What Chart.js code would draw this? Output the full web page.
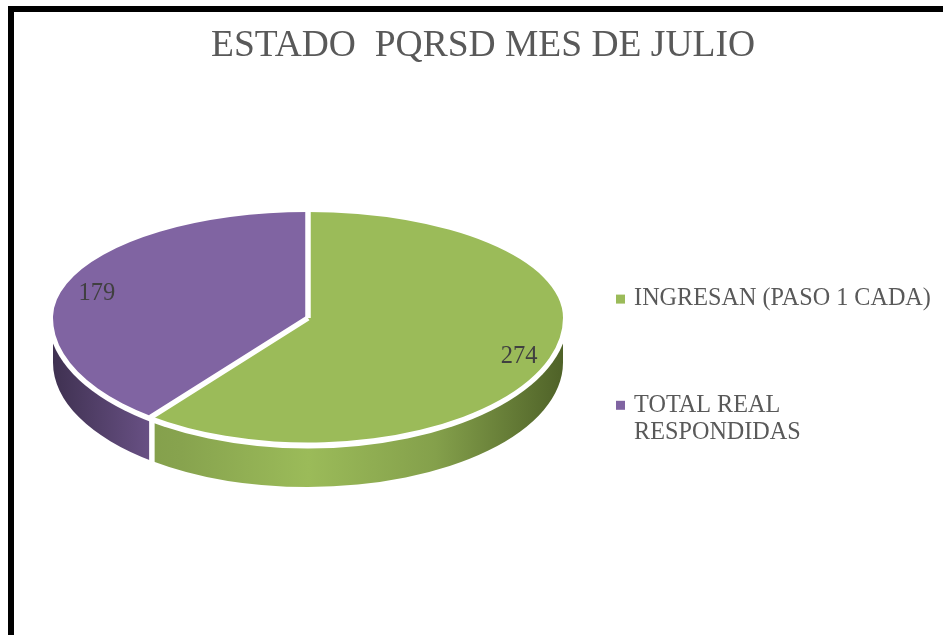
<!DOCTYPE html>
<html>
<head>
<meta charset="utf-8">
<title>Estado PQRSD</title>
<script src="https://cdn.jsdelivr.net/npm/chart.js@4/dist/chart.umd.js"></script>
<style>
    html, body { margin: 0; padding: 0; background: #fff; overflow: hidden; }
    #frame { position: absolute; left: 8px; top: 6px; right: 0; bottom: 0; border-left: 6px solid #000; border-top: 6px solid #000; pointer-events: none; }
    canvas { display: block; }
</style>
</head>
<body>
<canvas id="pie-chart" width="943" height="635"></canvas>
<div id="frame"></div>
<script>
var chartTitle = 'ESTADO  PQRSD MES DE JULIO';
var categories = ['INGRESAN (PASO 1 CADA)', ['TOTAL REAL', 'RESPONDIDAS']];
var values = [274, 179];
var faceColors = ['#9bbb59', '#8064a2'];
var wallColors = [
    ['#7c9746', '#87a34e', '#9bbb59', '#84a04b', '#4f6228'],
    ['#3f3151', '#755a94', '#8064a2', '#8064a2', '#8064a2']
];

var fontFamily = '"Liberation Serif", serif';
var textColor = '#595959';
var legendPadding = 82;

// tilt of the pie: the top half is flatter than the bottom half
var tiltTop = 106;
var tiltBottom = 124.5;
var wallDepth = 44.5;
var gapWidth = 5.5;

function wallGradient(ctx, cx, r, stops) {
    var g = ctx.createLinearGradient(cx - r, 0, cx + r, 0);
    stops.forEach(function (c, i) {
        g.addColorStop(i / (stops.length - 1), c);
    });
    return g;
}

var tiltedPie = {
    id: 'tiltedPie',
    afterLayout: function (chart) {
        chart.legend.left = 619 - legendPadding;
        chart.legend.top = 287 - legendPadding;
        chart.titleBlock.left -= 15;
        chart.titleBlock.right -= 15;
        chart.titleBlock.top += 3;
    },
    beforeDatasetDraw: function (chart, args) {
        var ctx = chart.ctx;
        var arcs = args.meta.data;
        var cx = arcs[0].x, cy = arcs[0].y, r = arcs[0].outerRadius;

        // side wall, only the part facing the viewer
        arcs.forEach(function (arc, i) {
            var from = Math.max(arc.startAngle, 0);
            var to = Math.min(arc.endAngle, Math.PI);
            if (to <= from) return;
            ctx.beginPath();
            ctx.ellipse(cx, cy + wallDepth, r, tiltBottom, 0, from, to);
            ctx.ellipse(cx, cy, r, tiltBottom, 0, to, from, true);
            ctx.closePath();
            ctx.fillStyle = wallGradient(ctx, cx, r, wallColors[i]);
            ctx.fill();
        });

        // white rim between face and wall
        ctx.beginPath();
        ctx.ellipse(cx, cy, r + 5, tiltBottom + 6, 0, 0, Math.PI);
        ctx.closePath();
        ctx.fillStyle = '#fff';
        ctx.fill();

        // faces, bottom half then top half, each with its own flattening
        [[cy - 0.5, 200, tiltBottom], [cy - 200, 200, tiltTop]].forEach(function (part) {
            ctx.save();
            ctx.beginPath();
            ctx.rect(0, part[0], chart.width, part[1]);
            ctx.clip();
            ctx.translate(cx, cy);
            ctx.scale(1, part[2] / r);
            ctx.translate(-cx, -cy);
            arcs.forEach(function (arc) { arc.draw(ctx); });
            ctx.restore();
        });

        // white cuts between the slices
        ctx.strokeStyle = '#fff';
        ctx.lineWidth = gapWidth;
        arcs.forEach(function (arc) {
            var a = arc.startAngle;
            var s = Math.sin(a);
            var px = cx + r * Math.cos(a);
            var py = cy + (s < 0 ? tiltTop : tiltBottom) * s;
            ctx.beginPath();
            ctx.moveTo(cx, cy);
            ctx.lineTo(px, py);
            if (s > 0) ctx.lineTo(px, py + wallDepth + 6);
            ctx.stroke();
        });

        return false;
    },
    afterDatasetsDraw: function (chart) {
        var ctx = chart.ctx;
        var arcs = chart.getDatasetMeta(0).data;
        ctx.save();
        ctx.font = '24.5px ' + fontFamily;
        ctx.fillStyle = '#404040';
        ctx.textAlign = 'center';
        ctx.textBaseline = 'middle';
        arcs.forEach(function (arc, i) {
            var mid = (arc.startAngle + arc.endAngle) / 2;
            var s = Math.sin(mid);
            var x = arc.x + arc.outerRadius * 0.875 * Math.cos(mid);
            var y = arc.y + (s < 0 ? tiltTop * 0.82 : tiltBottom * 0.87) * s + 4;
            ctx.fillText(String(values[i]), x, y);
        });
        ctx.restore();
    }
};

new Chart(document.getElementById('pie-chart'), {
    type: 'pie',
    data: {
        labels: categories,
        datasets: [{
            data: values,
            backgroundColor: faceColors,
            borderWidth: 0
        }]
    },
    options: {
        responsive: false,
        animation: false,
        events: [],
        layout: { padding: { left: 53, right: 0, top: 0, bottom: 62 } },
        plugins: {
            tooltip: { enabled: false },
            title: {
                display: true,
                text: chartTitle,
                color: textColor,
                font: { family: fontFamily, size: 37.5, weight: 'normal', lineHeight: 1 },
                padding: { top: 24.5, bottom: 1 }
            },
            legend: {
                position: 'right',
                align: 'start',
                maxWidth: 380,
                labels: {
                    usePointStyle: true,
                    pointStyle: 'rect',
                    boxWidth: 3,
                    boxHeight: 9,
                    padding: legendPadding,
                    color: textColor,
                    font: { family: fontFamily, size: 24.2, lineHeight: 1.116 }
                }
            }
        }
    },
    plugins: [tiltedPie]
});
</script>
</body>
</html>
